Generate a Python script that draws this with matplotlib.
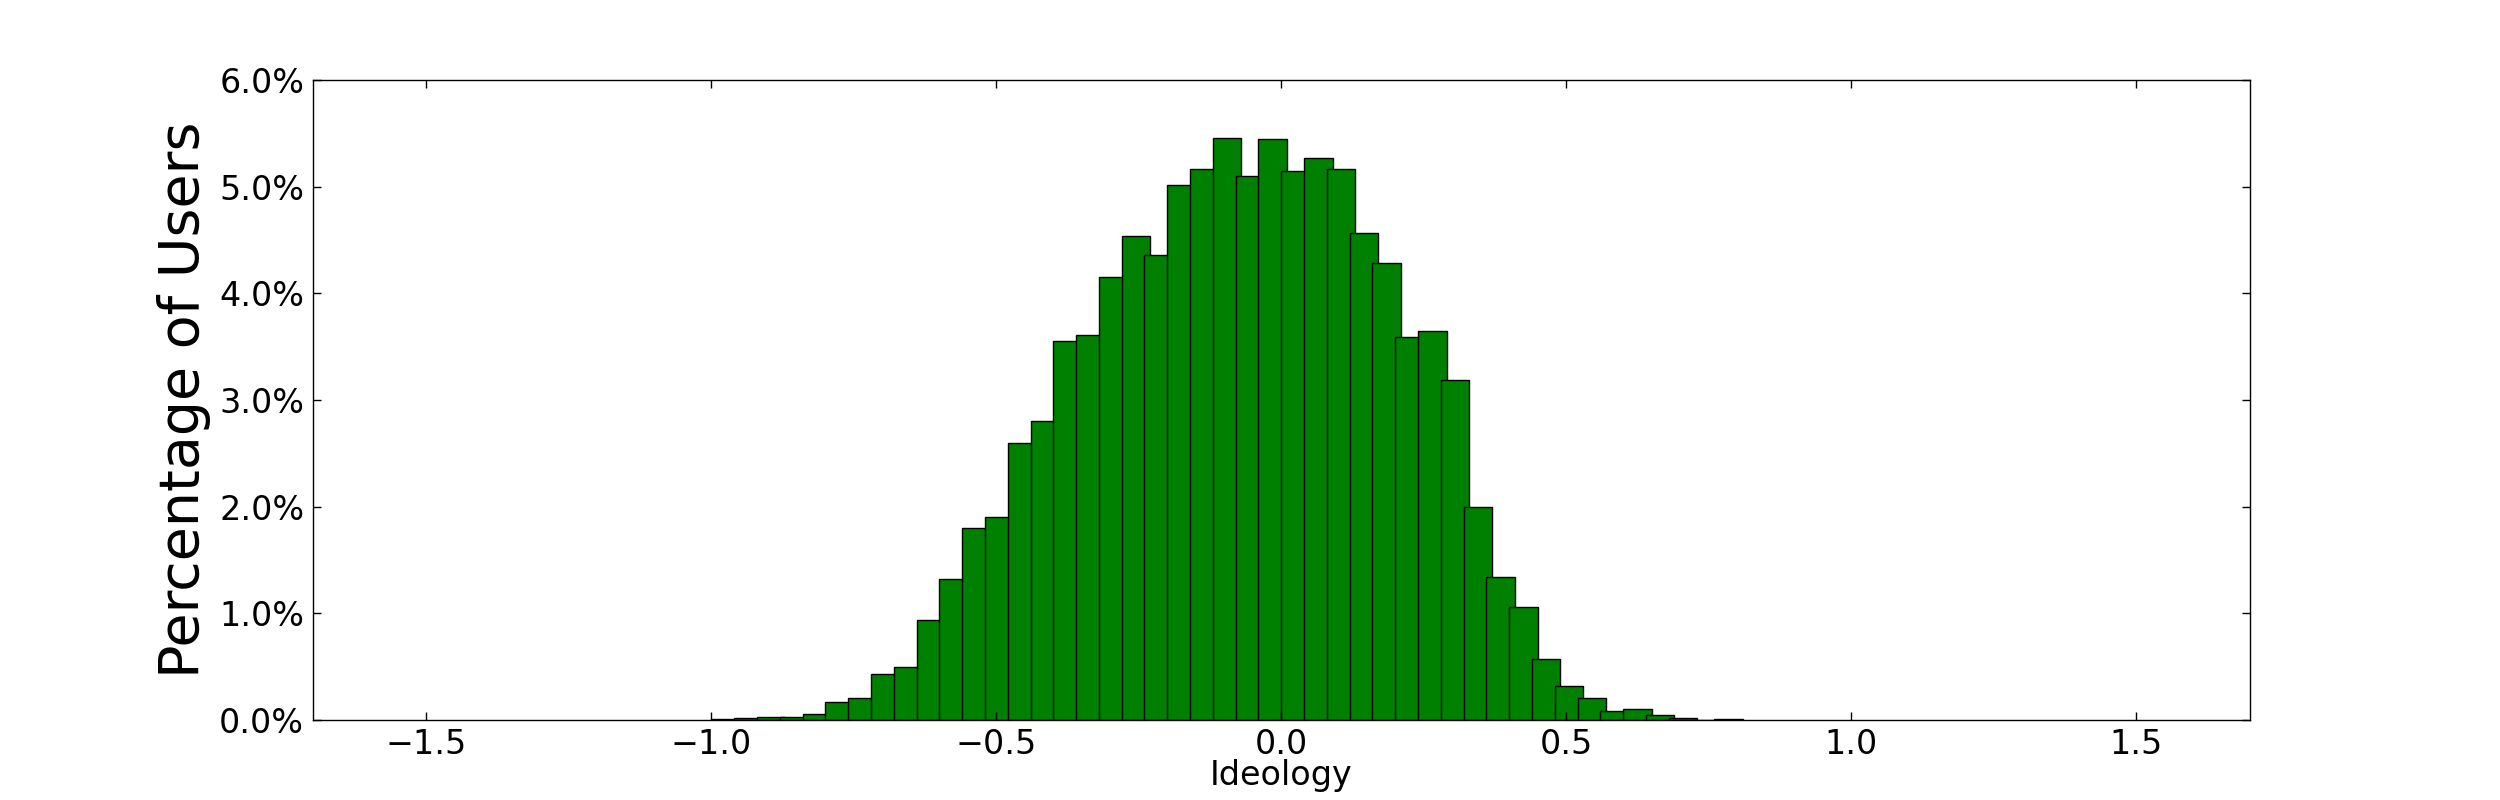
import matplotlib
matplotlib.use("Agg")
import matplotlib.pyplot as plt
from matplotlib.ticker import FuncFormatter

# left edge of each bin (ideology score) and share of users in it (percent)
bin_left = [-1.00, -0.96, -0.92, -0.88, -0.84, -0.80, -0.76, -0.72, -0.68,
            -0.64, -0.60, -0.56, -0.52, -0.48, -0.44, -0.40, -0.36, -0.32,
            -0.28, -0.24, -0.20, -0.16, -0.12, -0.08, -0.04, 0.00, 0.04,
            0.08, 0.12, 0.16, 0.20, 0.24, 0.28, 0.32, 0.36, 0.40, 0.44,
            0.48, 0.52, 0.56, 0.60, 0.64, 0.68, 0.72, 0.76]
pct_users = [0.01, 0.02, 0.025, 0.025, 0.06, 0.165, 0.21, 0.43, 0.50,
             0.94, 1.32, 1.80, 1.90, 2.60, 2.80, 3.55, 3.61, 4.15,
             4.54, 4.36, 5.02, 5.17, 5.46, 5.10, 5.45, 5.15, 5.27,
             5.17, 4.57, 4.28, 3.59, 3.65, 3.19, 2.00, 1.34, 1.06, 0.57,
             0.32, 0.21, 0.08, 0.10, 0.05, 0.02, 0.0, 0.012]

x_ticks = [-1.5, -1.0, -0.5, 0.0, 0.5, 1.0, 1.5]
y_ticks = [0, 1, 2, 3, 4, 5, 6]

fig = plt.figure(figsize=(25, 8), dpi=100)
fig.subplots_adjust(left=0.125, right=0.9, bottom=0.1, top=0.9)
ax = fig.add_subplot(111)

ax.bar(bin_left, pct_users, width=0.05, align='edge',
       color='green', edgecolor='black', linewidth=1.0)

ax.set_xlim(-1.7, 1.7)
ax.set_ylim(0, 6)
ax.set_xticks(x_ticks)
ax.set_yticks(y_ticks)
ax.yaxis.set_major_formatter(FuncFormatter(lambda v, pos: '%.1f%%' % v))

ax.tick_params(direction='in', top=True, right=True, length=6, width=1,
               labelsize=24, pad=6)
for s in ax.spines.values():
    s.set_linewidth(1.0)

ax.set_xlabel('Ideology', fontsize=24, labelpad=-2)
ax.set_ylabel('Percentage of Users', fontsize=40, labelpad=6)

plt.savefig('out.png', dpi=100)
